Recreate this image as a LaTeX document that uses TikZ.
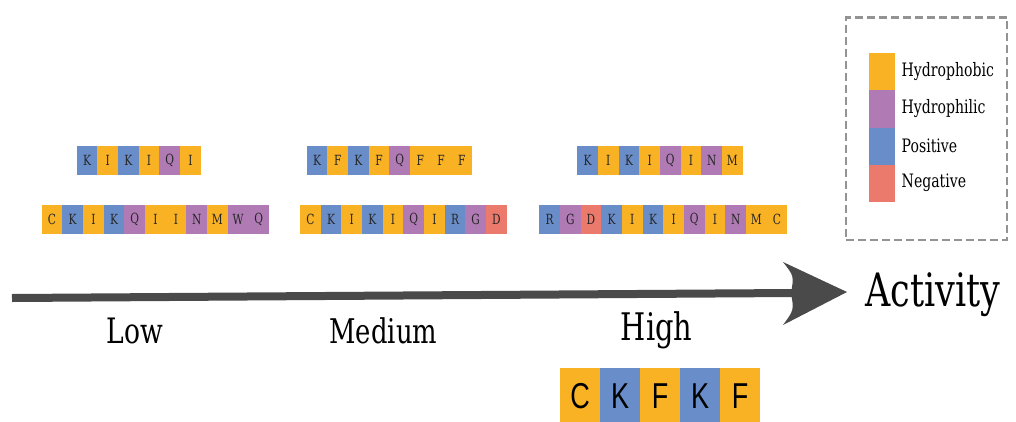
\documentclass[tikz,border=0pt]{standalone}
\usepackage{fontspec}
\setmainfont{DejaVu Serif}
\newfontfamily\lblfont[FakeStretch=0.76]{DejaVu Serif}
\newfontfamily\sansfnt[FakeStretch=0.75]{Liberation Sans}
\definecolor{ho}{HTML}{F9B224}
\definecolor{hi}{HTML}{B07AB4}
\definecolor{po}{HTML}{698DC8}
\definecolor{ne}{HTML}{EC7A6C}
\definecolor{arrowgray}{HTML}{4A4A4A}
\tikzset{
  cell/.style={minimum width=20.67pt, minimum height=29pt, inner sep=0pt, outer sep=0pt,
    text=black!85, font=\lblfont\fontsize{14}{14}\selectfont},
  bigcell/.style={minimum width=40pt, minimum height=56pt, inner sep=0pt, outer sep=0pt,
    text=black, font=\sansfnt\fontsize{36}{36}\selectfont},
  legbar/.style={minimum width=26pt, minimum height=37.1pt, inner sep=0pt, outer sep=0pt},
  legtext/.style={anchor=west, inner sep=0pt, font=\lblfont\fontsize{18.5}{18.5}\selectfont},
  level/.style={anchor=base, inner sep=0pt, font=\lblfont\fontsize{35}{35}\selectfont},
  legbox/.style={draw=gray!85, line width=2.5pt, dash pattern=on 8pt off 4pt,
    minimum width=161pt, minimum height=222.5pt, inner sep=0pt},
  shaft/.style={draw=arrowgray, line width=8pt}
}
\begin{document}
\begin{tikzpicture}[x=1pt,y=-1pt]
\useasboundingbox (0,0) rectangle (1016,421);
% Low
\foreach \L/\C [count=\i from 0] in {K/po,I/ho,K/po,I/ho,Q/hi,I/ho}
  \node[cell, fill=\C] (lowa\i) at ({76.7+\i*20.67+10.33},160.5) {\L};
\foreach \L/\C [count=\i from 0] in {C/ho,K/po,I/ho,K/po,Q/hi,I/ho,I/ho,N/hi,M/ho,W/hi,Q/hi}
  \node[cell, fill=\C] (lowb\i) at ({41.7+\i*20.67+10.33},219.5) {\L};
% Medium
\foreach \L/\C [count=\i from 0] in {K/po,F/ho,K/po,F/ho,Q/hi,F/ho,F/ho,F/ho}
  \node[cell, fill=\C] (meda\i) at ({306.7+\i*20.67+10.33},160.5) {\L};
\foreach \L/\C [count=\i from 0] in {C/ho,K/po,I/ho,K/po,I/ho,Q/hi,I/ho,R/po,G/hi,D/ne}
  \node[cell, fill=\C] (medb\i) at ({300+\i*20.67+10.33},219.5) {\L};
% High
\foreach \L/\C [count=\i from 0] in {K/po,I/ho,K/po,I/ho,Q/hi,I/ho,N/hi,M/ho}
  \node[cell, fill=\C] (higha\i) at ({577.3+\i*20.67+10.33},160.5) {\L};
\foreach \L/\C [count=\i from 0] in {R/po,G/hi,D/ne,K/po,I/ho,K/po,I/ho,Q/hi,I/ho,N/hi,M/ho,C/ho}
  \node[cell, fill=\C] (highb\i) at ({539.3+\i*20.67+10.33},219.5) {\L};
% arrow
\coordinate (tail) at (12,298);
\coordinate (neck) at (792,293);
\draw[shaft] (tail) -- (neck);
\fill[arrowgray] (783,262) -- (847,292) -- (783,325) .. controls (794,310) .. (791,293)
  .. controls (794,276) .. (783,262) -- cycle;
\node[anchor=base west, inner sep=0pt, font=\lblfont\fontsize{46}{46}\selectfont] (activity) at (865,306.7) {Activity};
% levels
\node[level] (low) at (135,343.3) {Low};
\node[level, font=\lblfont\fontsize{34}{34}\selectfont] (medium) at (383.3,343.3) {Medium};
\node[level, font=\lblfont\fontsize{38}{38}\selectfont] (high) at (656.7,340) {High};
% bottom peptide
\foreach \L/\C [count=\i from 0] in {C/ho,K/po,F/ho,K/po,F/ho}
  \node[bigcell, fill=\C] (pep\i) at ({560+\i*40+20},396) {\L};
% legend
\node[legbox] (legend) at (926.5,128.75) {};
\foreach \T/\C [count=\i from 0] in {Hydrophobic/ho,Hydrophilic/hi,Positive/po,Negative/ne} {
  \node[legbar, fill=\C] (lb\i) at (882,{53.3+\i*37.1+18.55}) {};
  \node[legtext] (lt\i) at ([xshift=6.5pt]lb\i.east) {\T};
}
\end{tikzpicture}
\end{document}
